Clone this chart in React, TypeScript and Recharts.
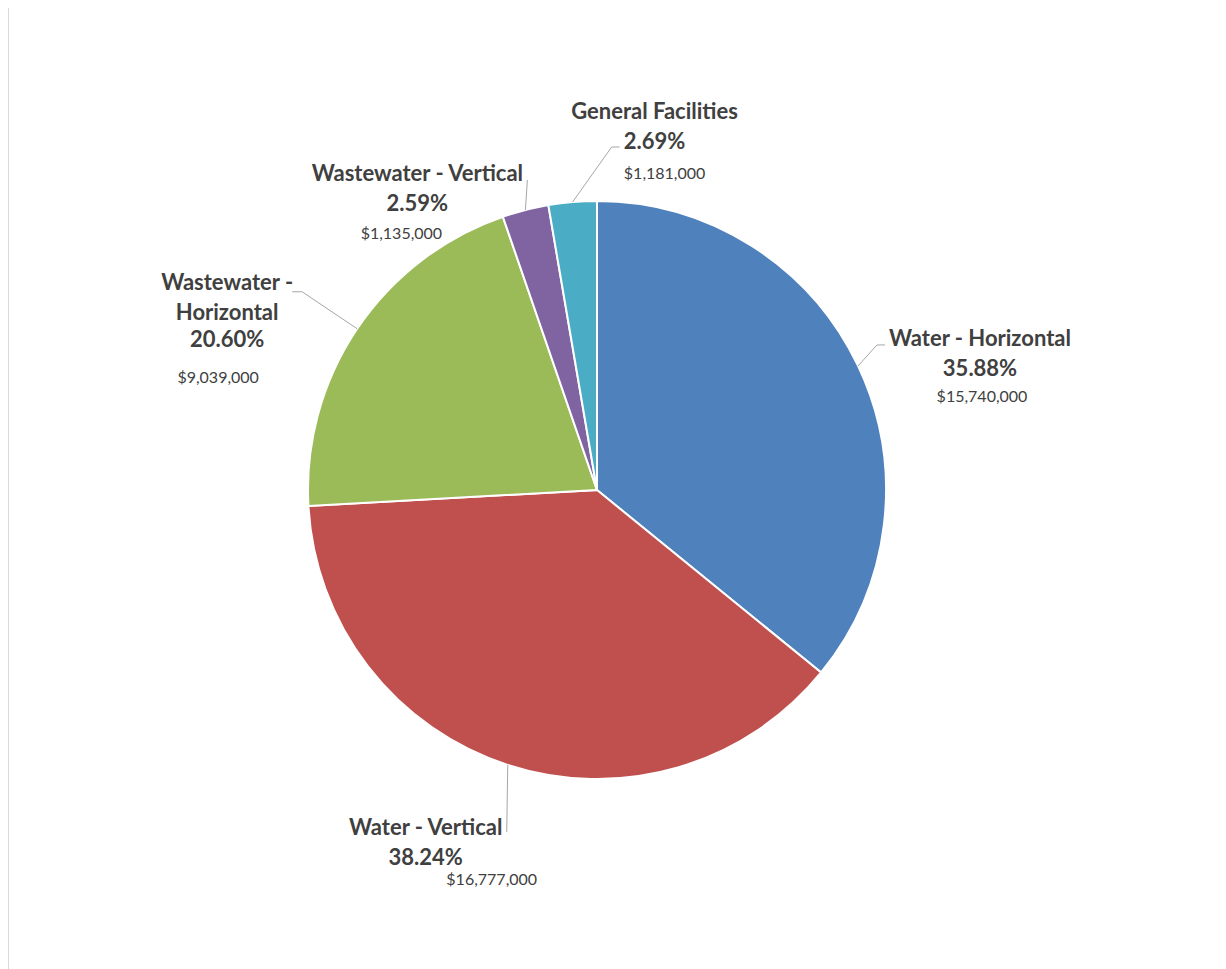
import { PieChart, Pie, Cell } from 'recharts'

const categories = [
  'Water - Horizontal',
  'Water - Vertical',
  'Wastewater - Horizontal',
  'Wastewater - Vertical',
  'General Facilities',
]
const amounts = [15740000, 16777000, 9039000, 1135000, 1181000]
const colors = ['#4F81BD', '#C0504D', '#9BBB59', '#8064A2', '#4BACC6']

// label text lines (Excel wrapped the long one)
const labelLines = [
  ['Water - Horizontal'],
  ['Water - Vertical'],
  ['Wastewater -', 'Horizontal'],
  ['Wastewater - Vertical'],
  ['General Facilities'],
]

// offsets from the slice's arc midpoint: elbow, line end, text centre,
// gap to the percentage, value shift
const labelLayout = [
  { ex: 19, ey: -21, lx: 27, ly: -21, tx: 122, ty: -28, pct: 30, vdx: 2, vdy: 28 },
  { ex: -1, ey: 67, lx: -1, ly: 67, tx: -82, ty: 62, pct: 30, vdx: 66, vdy: 22 },
  { ex: -55, ey: -37, lx: -65, ly: -37, tx: -130, ty: -47, pct: 27, vdx: -9, vdy: 38 },
  { ex: 2, ey: -30, lx: 2, ly: -30, tx: -108, ty: -38, pct: 30, vdx: -16, vdy: 30 },
  { ex: 39, ey: -55, lx: 47, ly: -55, tx: 82, ty: -92, pct: 30, vdx: 10, vdy: 32 },
]

const data = categories.map((name, i) => ({ name, value: amounts[i] }))
const total = amounts.reduce((a, b) => a + b, 0)

const RAD = Math.PI / 180
const FONT = 'Lato, "Open Sans", sans-serif'

function renderLabel(props: any) {
  const { cx, cy, midAngle, outerRadius, index } = props
  const L = labelLayout[index]
  const ax = cx + outerRadius * Math.cos(-midAngle * RAD)
  const ay = cy + outerRadius * Math.sin(-midAngle * RAD)
  const x = ax + L.tx
  const lines = labelLines[index]
  const nameY = ay + L.ty
  const pctY = nameY + (lines.length - 1) * 30 + L.pct
  const pct = ((amounts[index] / total) * 100).toFixed(2) + '%'
  const val = '$' + amounts[index].toLocaleString('en-US')
  return (
    <g key={'lbl' + index}>
      <polyline
        points={`${ax},${ay} ${ax + L.ex},${ay + L.ey} ${ax + L.lx},${ay + L.ly}`}
        fill="none"
        stroke="#a6a6a6"
        strokeWidth={1}
      />
      {lines.map((t, j) => (
        <text
          key={j}
          x={x}
          y={nameY + j * 30}
          textAnchor="middle"
          dominantBaseline="central"
          fontFamily={FONT}
          fontWeight={700}
          fontSize={22}
          fill="#404040"
        >
          {t}
        </text>
      ))}
      <text
        x={x}
        y={pctY}
        textAnchor="middle"
        dominantBaseline="central"
        fontFamily={FONT}
        fontWeight={700}
        fontSize={22}
        fill="#404040"
      >
        {pct}
      </text>
      <text
        x={x + L.vdx}
        y={pctY + L.vdy}
        textAnchor="middle"
        dominantBaseline="central"
        fontFamily={FONT}
        fontSize={16}
        fill="#404040"
      >
        {val}
      </text>
    </g>
  )
}

export default function App() {
  return (
    <div
      style={{
        marginTop: -5,
        width: 1215,
        height: 975,
        boxSizing: 'border-box',
        border: '1px solid #d9d9d9',
        background: '#fff',
      }}
    >
      <PieChart width={1213} height={973} margin={{ top: 0, right: 0, bottom: 0, left: 0 }}>
        <Pie
          data={data}
          dataKey="value"
          nameKey="name"
          cx={588}
          cy={486}
          outerRadius={289}
          startAngle={90}
          endAngle={-270}
          stroke="#ffffff"
          strokeWidth={2}
          label={renderLabel}
          labelLine={false}
          isAnimationActive={false}
        >
          {data.map((d, i) => (
            <Cell key={d.name} fill={colors[i]} />
          ))}
        </Pie>
      </PieChart>
    </div>
  )
}
